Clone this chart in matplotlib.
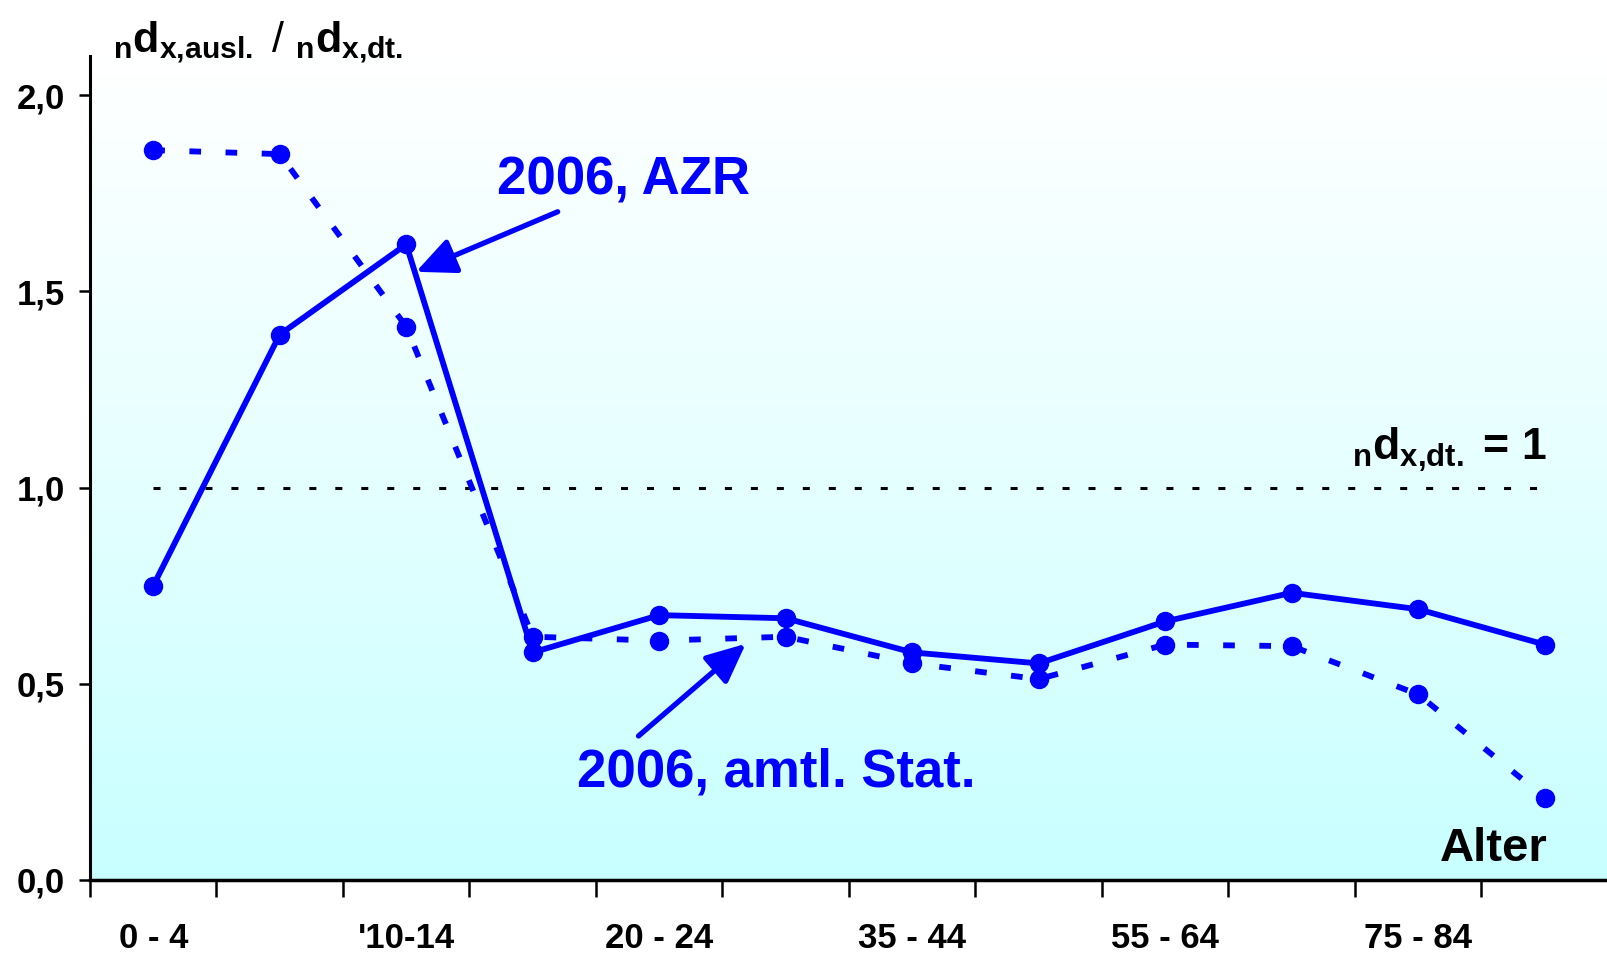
#!/usr/bin/env python3
"""Ratio of age-specific death rates, foreigners vs. Germans, 2006."""

import numpy as np
import matplotlib
matplotlib.use('Agg')
import matplotlib.pyplot as plt
from matplotlib.colors import LinearSegmentedColormap

# data
age_groups = ['0 - 4', '5 - 9', "'10-14", '15 - 19', '20 - 24', '25 - 34',
              '35 - 44', '45 - 54', '55 - 64', '65 - 74', '75 - 84', '85+']
azr_2006 = [0.75, 1.39, 1.62, 0.58, 0.675, 0.667, 0.58, 0.552, 0.659, 0.732, 0.69, 0.60]
amtl_2006 = [1.86, 1.85, 1.41, 0.62, 0.61, 0.62, 0.552, 0.512, 0.60, 0.596, 0.473, 0.21]
reference_level = 1.0
y_ticks = [0.0, 0.5, 1.0, 1.5, 2.0]
y_tick_labels = ['0,0', '0,5', '1,0', '1,5', '2,0']

BLUE = '#0000FF'
BOLD = 'Liberation Sans'
NARROW = ['Liberation Sans Narrow', 'Liberation Sans']

plt.rcParams['mathtext.fontset'] = 'custom'
plt.rcParams['mathtext.rm'] = 'Liberation Sans:bold'
plt.rcParams['mathtext.it'] = 'Liberation Sans:bold'
plt.rcParams['mathtext.bf'] = 'Liberation Sans:bold'


def main():
    W, H = 1608, 956
    fig = plt.figure(figsize=(W / 100, H / 100), dpi=100)
    ax = fig.add_axes([90 / W, (H - 880) / H, (W - 90) / W, (880 - 56) / H])

    x = np.arange(len(age_groups))
    ax.set_xlim(-0.5, 11.5)
    ax.set_ylim(0, 2.1)

    # background gradient, white at top to light cyan at bottom
    cmap = LinearSegmentedColormap.from_list(
        'bg', [(0, '#C8FFFF'), (0.5, '#E6FFFF'), (1, '#FFFFFF')])
    ax.imshow(np.linspace(0, 1, 256).reshape(-1, 1), cmap=cmap, origin='lower',
              extent=[-0.5, 11.5, 0, 2.1], aspect='auto', zorder=0)

    ax.hlines(reference_level, x[0], x[-1], colors='black', lw=2.2,
              linestyles=(0, (2.3, 6.2)), zorder=2)

    ax.plot(x, amtl_2006, color=BLUE, lw=4.2, ls=(0, (2, 4.2)),
            marker='o', ms=13, zorder=3)
    ax.plot(x, azr_2006, color=BLUE, lw=4.2, marker='o', ms=13, zorder=4)

    # spines and ticks
    for s in ['top', 'right']:
        ax.spines[s].set_visible(False)
    ax.spines['left'].set_linewidth(2.2)
    ax.spines['bottom'].set_linewidth(2.5)

    ax.set_yticks(y_ticks)
    ax.set_yticklabels(y_tick_labels, family=NARROW, fontweight='bold', fontsize=25)
    ax.tick_params(axis='y', length=8, width=1.8, pad=10)

    ax.set_xticks(np.arange(len(age_groups)) - 0.5)
    ax.set_xticklabels([])
    ax.tick_params(axis='x', which='major', length=12, width=1.8)
    ax.set_xticks(x[::2], minor=True)
    ax.set_xticklabels(age_groups[::2], minor=True, family=NARROW,
                       fontweight='bold', fontsize=25)
    ax.tick_params(axis='x', which='minor', length=0, pad=30)

    # labels and annotations
    fig.text(113 / W, 1 - 52 / H,
             r'$_{n}d_{x{,}ausl.}$ / $_{n}d_{x{,}dt.}$',
             family=BOLD, fontsize=31, va='baseline')

    ax.text(11.02, 1.07, r'$_{n}d_{x{,}dt.}$ = 1', family=BOLD,
            fontweight='bold', fontsize=32, ha='right', va='baseline')

    ax.text(11.02, 0.048, 'Alter', family=BOLD, fontweight='bold',
            fontsize=34, ha='right', va='baseline')

    arrow = dict(arrowstyle='-|>,head_length=1.2,head_width=0.55', lw=3.8,
                 color=BLUE, mutation_scale=20, shrinkA=0, shrinkB=0)
    ax.annotate('', xy=(2.077, 1.55), xytext=(3.197, 1.703), arrowprops=arrow)
    ax.text(2.716, 1.746, '2006, AZR', color=BLUE, family=BOLD,
            fontweight='bold', fontsize=38, va='baseline')

    ax.annotate('', xy=(4.684, 0.602), xytext=(3.836, 0.367), arrowprops=arrow)
    ax.text(3.347, 0.238, '2006, amtl. Stat.', color=BLUE, family=BOLD,
            fontweight='bold', fontsize=38, va='baseline')

    fig.savefig('out.png', dpi=100)
    plt.close(fig)


if __name__ == '__main__':
    main()
